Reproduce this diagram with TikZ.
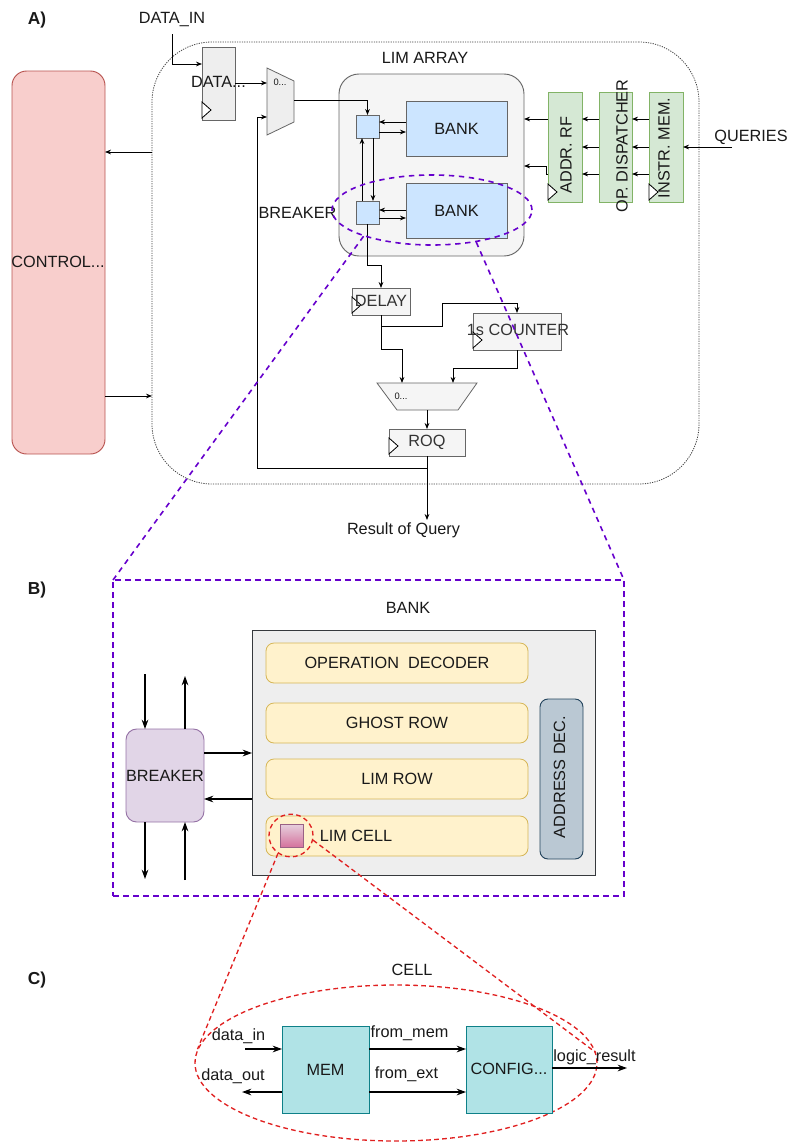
\documentclass[tikz,border=0pt]{standalone}
\usepackage{fontspec}
\setmainfont{Liberation Sans}
\usetikzlibrary{arrows.meta,shapes.geometric,calc}
\definecolor{ctrlF}{HTML}{F8CECC}\definecolor{ctrlD}{HTML}{B85450}
\definecolor{gF}{HTML}{F5F5F5}\definecolor{gD}{HTML}{666666}
\definecolor{eF}{HTML}{EEEEEE}
\definecolor{bF}{HTML}{CCE5FF}
\definecolor{grF}{HTML}{D5E8D4}\definecolor{grD}{HTML}{82B366}
\definecolor{yF}{HTML}{FFF2CC}\definecolor{yD}{HTML}{D6B656}
\definecolor{pF}{HTML}{E1D5E7}\definecolor{pD}{HTML}{9673A6}
\definecolor{adF}{HTML}{BAC8D3}\definecolor{adD}{HTML}{23445D}
\definecolor{tF}{HTML}{B0E3E6}\definecolor{tD}{HTML}{0E8088}
\definecolor{pkT}{HTML}{E6D0DE}\definecolor{pkB}{HTML}{D5739D}\definecolor{pkD}{HTML}{996185}
\definecolor{bkD}{HTML}{36393D}
\definecolor{purc}{HTML}{6600CC}
\definecolor{redc}{HTML}{E02020}
\definecolor{txtg}{HTML}{333333}
\newcommand\clk[1]{\draw[fill=white, line width=0.6pt] (#1.south west) ++(0,-2) -- ++(9,-8) -- ++(-9,-8) -- cycle;}
\begin{document}
\begin{tikzpicture}[x=0.75pt,y=-0.75pt,
  every node/.style={font=\fontsize{12.2}{14.5}\selectfont, text=black!90},
  bx/.style 2 args={rectangle, minimum width=#1*0.75pt, minimum height=#2*0.75pt, inner sep=0pt, outer sep=0pt},
  lbl/.style={inner sep=0pt},
  small/.style={inner sep=0pt, font=\fontsize{7}{8}\selectfont},
  greybox/.style={draw=gD, fill=gF, line width=0.6pt},
  bluebox/.style={draw=gD, fill=bF, line width=0.7pt},
  greenbox/.style={draw=grD, fill=grF, line width=0.7pt},
  yrow/.style={bx={262}{40}, draw=yD, fill=yF, rounded corners=6pt, line width=0.6pt},
  arrA/.style={line width=0.6pt, -{Stealth[length=4.5pt,width=3.5pt]}},
  arrB/.style={line width=0.9pt, -{Stealth[length=7pt,width=5pt]}},
  purd/.style={draw=purc, line width=1.2pt, dash pattern=on 4pt off 3.5pt},
  redd/.style={draw=redc, line width=1pt, dash pattern=on 3.5pt off 2.5pt}]
\useasboundingbox (0,0) rectangle (792,1142);

% ================= A =================
\node[lbl, font=\bfseries\fontsize{13}{15}\selectfont] (labA) at (37,20) {A)};
\node[lbl] (datain) at (172,20) {DATA\_IN};
\node[bx={547}{442}, draw=black!75, line width=0.6pt, dash pattern=on 0.9pt off 0.9pt, rounded corners=45pt] (outer) at (425.5,263) {};
\node[lbl] (limlab) at (425,58) {LIM ARRAY};

% control
\node[bx={93}{383}, draw=ctrlD, fill=ctrlF, rounded corners=11pt, line width=0.7pt] (ctrl) at (58.5,262.5) {};
\node[lbl] (ctrlt) at (58,262) {CONTROL...};
\draw[arrA] (outer.west |- 0,152) -- (ctrl.east |- 0,152);
\draw[arrA] (ctrl.east |- 0,396) -- (outer.west |- 0,396);

% data register
\node[bx={33}{73}, draw=gD, fill=eF, line width=0.6pt] (dreg) at (218.5,83.5) {};
\clk{dreg}
\node[lbl] (dregt) at (218.5,82) {DATA...};
\draw[arrA] ([yshift=-5pt]datain.south) |- (dreg.west |- 0,64);

% mux 1
\draw[draw=gD, fill=eF, line width=0.6pt] (267,68) -- (294,81) -- (294,122) -- (267,135) -- cycle;
\node[small] (mux1t) at (280,82) {0...};
\coordinate (mux1a) at (267,83);
\coordinate (mux1b) at (267,117);
\coordinate (mux1o) at (294,100);
\draw[arrA] (dreg.east |- mux1a) -- (mux1a);

% LIM array
\node[bx={185}{182}, draw=gD, fill=gF, rounded corners=15pt, line width=0.7pt] (lim) at (431.5,165) {};
\node[bx={23}{23}, bluebox] (sb1) at (367.5,126.5) {};
\node[bx={23}{23}, bluebox] (sb2) at (367.5,212.5) {};
\node[bx={101}{55}, bluebox] (bank1) at (456.5,128.5) {BANK};
\node[bx={101}{55}, bluebox] (bank2) at (456.5,210.5) {BANK};
\node[lbl] (brklab) at (297.5,213) {BREAKER};
\draw[arrA] (mux1o) -| (sb1.north);
\draw[arrA] (bank1.west |- 0,122) -- (sb1.east |- 0,122);
\draw[arrA] (sb1.east |- 0,132) -- (bank1.west |- 0,132);
\draw[arrA] (bank2.west |- 0,210) -- (sb2.east |- 0,210);
\draw[arrA] (sb2.east |- 0,218) -- (bank2.west |- 0,218);
\draw[arrA] (sb2.north -| 362,0) -- (sb1.south -| 362,0);
\draw[arrA] (sb1.south -| 373,0) -- (sb2.north -| 373,0);

% delay, counter, mux2, roq
\node[bx={58}{27}, greybox] (delay) at (381,301.5) {};
\clk{delay}
\node[lbl, text=txtg] (delayt) at (381,301) {DELAY};
\node[bx={88}{37}, greybox] (counter) at (517,331.5) {};
\clk{counter}
\node[lbl, text=txtg] (countert) at (518,330) {1s COUNTER};
\draw[arrA] (sb2.south) -- ++(0,41) -| (delay.north);
\draw[arrA] (delay.south) |- (442,326) -- (442,303) -| (counter.north);
\coordinate (mux2a) at (402,383);
\coordinate (mux2b) at (453,383);
\coordinate (mux2o) at (427,410);
\draw[arrA] (delay.south) |- (402,349) -- (mux2a);
\draw[arrA] (counter.south) |- (453,368) -- (mux2b);
\draw[draw=gD, fill=gF, line width=0.6pt] (377,383) -- (477,383) -- (458,410) -- (397,410) -- cycle;
\node[small] (mux2t) at (401,396) {0...};
\node[bx={76}{27}, greybox] (roq) at (427,442.5) {};
\clk{roq}
\node[lbl, text=txtg] (roqt) at (427,442) {ROQ};
\draw[arrA] (mux2o) -- (roq.north);
\node[lbl] (result) at (403.5,530) {Result of Query};
\draw[arrA] (roq.south) -- (roq.south |- 0,520);
\draw[arrA] (roq.south |- 0,468) -| (mux1b -| 257,0) -- (mux1b);

% right side
\node[bx={34}{110}, greenbox] (addr) at (565,147) {};
\clk{addr}
\node[bx={33}{110}, greenbox] (opd) at (615.5,147) {};
\node[bx={34}{110}, greenbox] (instr) at (666,147) {};
\clk{instr}
\node[lbl, rotate=90] (addrt) at (566,155) {ADDR. RF};
\node[lbl, rotate=90] (opdt) at (622,146) {OP. DISPATCHER};
\node[lbl, rotate=90] (instrt) at (664,148) {INSTR. MEM.};
\foreach \yy in {119,147,174}{
  \draw[arrA] (opd.west |- 0,\yy) -- (addr.east |- 0,\yy);
  \draw[arrA] (instr.west |- 0,\yy) -- (opd.east |- 0,\yy);
}
\draw[arrA] (addr.west |- 0,119) -- (lim.east |- 0,119);
\draw[arrA] (addr.west |- 0,174) -- ++(-2,0) |- (lim.east |- 0,166);
\node[lbl] (queries) at (751,137) {QUERIES};
\coordinate (qin) at (732,147);
\draw[arrA] (qin) -- (instr.east |- qin);

% zoom ellipse
\node[ellipse, purd, minimum width=150pt, minimum height=52.5pt, inner sep=0pt] (brkell) at (432,210) {};

% ================= B =================
\node[lbl, font=\bfseries\fontsize{13}{15}\selectfont] (labB) at (37,590) {B)};
\node[bx={511}{316}, purd, dash pattern=on 4.5pt off 3pt] (secB) at (368.5,738) {};
\draw[purd] (brkell.201) -- (secB.north west);
\draw[purd] (brkell.324) -- (secB.north east);
\node[lbl] (banklab) at (408,608) {BANK};
\node[bx={343}{245}, draw=bkD, fill=eF, line width=0.7pt] (bankB) at (423.5,752.5) {};
\node[yrow] (opdec) at (397,663) {OPERATION\ \ DECODER};
\node[yrow] (ghost) at (397,723) {GHOST ROW};
\node[yrow] (limrow) at (397,779) {LIM ROW};
\node[yrow] (limcell) at (397,836) {};
\node[lbl] (limcellt) at (356,836) {LIM CELL};
\node[bx={43}{160}, draw=adD, fill=adF, rounded corners=6pt, line width=0.7pt] (adec) at (561.5,779) {};
\node[lbl, rotate=90] (adect) at (559.5,777) {ADDRESS DEC.};
\node[bx={23}{23}, top color=pkT, bottom color=pkB, draw=pkD, line width=0.7pt] (pcell) at (291.5,835.5) {};
\node[ellipse, redd, minimum width=33pt, minimum height=32pt, inner sep=0pt] (cring) at (291,835.5) {};

\node[bx={78}{93}, draw=pD, fill=pF, rounded corners=8pt, line width=0.7pt] (brk) at (165,775.5) {BREAKER};
\coordinate (bt1) at (145,674);
\coordinate (bt2) at (185,676);
\coordinate (bb1) at (145,879);
\coordinate (bb2) at (185,880);
\draw[arrB] (bt1) -- (bt1 |- brk.north);
\draw[arrB] (bt2 |- brk.north) -- (bt2);
\draw[arrB] (bb1 |- brk.south) -- (bb1);
\draw[arrB] (bb2) -- (bb2 |- brk.south);
\draw[arrB] (brk.east |- 0,753) -- (bankB.west |- 0,753);
\draw[arrB] (bankB.west |- 0,799) -- (brk.east |- 0,799);

% ================= C =================
\node[lbl, font=\bfseries\fontsize{13}{15}\selectfont] (labC) at (37,980) {C)};
\node[lbl] (celllab) at (412,970) {CELL};
\node[ellipse, redd, minimum width=301.5pt, minimum height=117pt, inner sep=0pt] (cellell) at (396,1063) {};
\draw[redd] (cring.234) -- (cellell.176);
\draw[redd] (cring.-12) -- (cellell.3);
\node[bx={87}{87}, draw=tD, fill=tF, line width=0.7pt] (mem) at (325.5,1069.5) {MEM};
\node[bx={86}{87}, draw=tD, fill=tF, line width=0.7pt] (config) at (509,1069.5) {};
\node[lbl] (configt) at (509,1069) {CONFIG...};
\coordinate (din) at (245,1049);
\coordinate (dout) at (242,1092);
\coordinate (lres) at (627,1068);
\draw[arrB] (din) -- (mem.west |- din);
\draw[arrB] (mem.west |- dout) -- (dout);
\draw[arrB] (mem.east |- 0,1049) -- (config.west |- 0,1049);
\draw[arrB] (mem.east |- 0,1092) -- (config.west |- 0,1092);
\draw[arrB] (config.east |- lres) -- (lres);
\node[lbl] (dinl) at (238.5,1036) {data\_in};
\node[lbl] (doutl) at (233,1076) {data\_out};
\node[lbl] (fml) at (409.5,1033) {from\_mem};
\node[lbl] (fel) at (406.5,1074) {from\_ext};
\node[lbl] (lrl) at (594.5,1057) {logic\_result};
\end{tikzpicture}
\end{document}
